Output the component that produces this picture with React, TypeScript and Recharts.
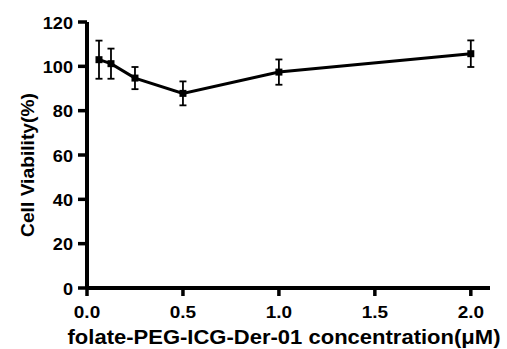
import React from 'react';
import { LineChart, Line, XAxis, YAxis, ErrorBar } from 'recharts';

const concentrations = [0.0625, 0.125, 0.25, 0.5, 1.0, 2.0];
const viability = [103.0, 101.2, 94.7, 87.8, 97.4, 105.7];
const errors = [8.6, 6.8, 5.0, 5.4, 5.7, 6.0];
const xTicks = [0, 0.5, 1.0, 1.5, 2.0];
const yTicks = [0, 20, 40, 60, 80, 100, 120];
const xTitle = 'folate-PEG-ICG-Der-01 concentration(μM)';
const yTitle = 'Cell Viability(%)';

const data = concentrations.map((c, i) => ({ x: c, y: viability[i], err: errors[i] }));

const FONT = '"Liberation Sans", Arial, sans-serif';

const SquareDot = (props: any) => {
  const { cx, cy } = props;
  if (cx == null || cy == null) return null;
  return <rect x={cx - 3.5} y={cy - 3.5} width={7} height={7} fill="#000" />;
};

const XTick = (props: any) => {
  const { x, y, payload } = props;
  return (
    <text
      transform={`translate(${x},${y + 14}) scale(1.15,1)`}
      textAnchor="middle"
      dominantBaseline="central"
      fontFamily={FONT}
      fontWeight="bold"
      fontSize={16.5}
      fill="#000"
    >
      {Number(payload.value).toFixed(1)}
    </text>
  );
};

const YTick = (props: any) => {
  const { x, y, payload } = props;
  return (
    <text
      transform={`translate(${x - 3},${y + 1}) scale(1.1,1)`}
      textAnchor="end"
      dominantBaseline="central"
      fontFamily={FONT}
      fontWeight="bold"
      fontSize={16.5}
      fill="#000"
    >
      {payload.value}
    </text>
  );
};

export default function App() {
  return (
    <div style={{ position: 'absolute', left: 0, top: 0, background: '#fff' }}>
      <LineChart width={507} height={349} data={data} margin={{ top: 22, right: 17, bottom: 31, left: 0 }}>
        <XAxis
          dataKey="x"
          type="number"
          domain={[0, 2.1]}
          ticks={xTicks}
          height={30}
          axisLine={{ stroke: '#000', strokeWidth: 4 }}
          tickLine={{ stroke: '#000', strokeWidth: 3.5 }}
          tickSize={8}
          tick={<XTick />}
          label={{
            content: () => (
              <text x={284} y={344} textAnchor="middle" textLength={433} lengthAdjust="spacingAndGlyphs" fontFamily={FONT} fontWeight="bold" fontSize={21} fill="#000">
                {xTitle}
              </text>
            ),
          }}
        />
        <YAxis
          type="number"
          domain={[0, 120]}
          ticks={yTicks}
          width={87}
          axisLine={{ stroke: '#000', strokeWidth: 4 }}
          tickLine={{ stroke: '#000', strokeWidth: 3.5 }}
          tickSize={9}
          tick={<YTick />}
          label={{
            content: () => (
              <text x={34} y={165} transform="rotate(-90 34 165)" textAnchor="middle" textLength={144} lengthAdjust="spacingAndGlyphs" fontFamily={FONT} fontWeight="bold" fontSize={19} fill="#000">
                {yTitle}
              </text>
            ),
          }}
        />
        <Line
          type="linear"
          dataKey="y"
          stroke="#000"
          strokeWidth={3}
          dot={<SquareDot />}
          activeDot={false}
          isAnimationActive={false}
        >
          <ErrorBar dataKey="err" direction="y" width={3.5} stroke="#000" strokeWidth={1.8} isAnimationActive={false} />
        </Line>
      </LineChart>
    </div>
  );
}
